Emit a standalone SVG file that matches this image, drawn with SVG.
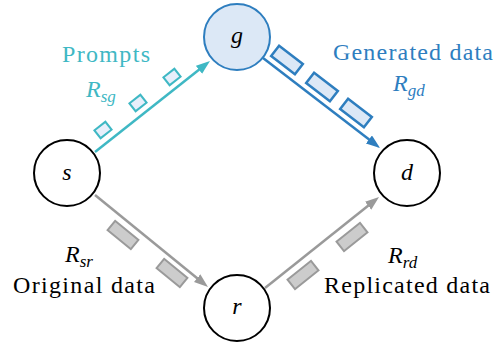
<svg xmlns="http://www.w3.org/2000/svg" width="504" height="344" viewBox="0 0 504 344">
<defs>
<marker id="aT" markerUnits="userSpaceOnUse" markerWidth="16" markerHeight="12" refX="6" refY="5" orient="auto"><path d="M0,0 L14,5 L0,10 z" fill="#3fb8c4"/></marker>
<marker id="aB" markerUnits="userSpaceOnUse" markerWidth="16" markerHeight="12" refX="6" refY="5" orient="auto"><path d="M0,0 L14,5 L0,10 z" fill="#2e7ebf"/></marker>
<marker id="aG" markerUnits="userSpaceOnUse" markerWidth="16" markerHeight="12" refX="6" refY="5" orient="auto"><path d="M0,0 L14,5 L0,10 z" fill="#9a9a9a"/></marker>
<rect id="sq" x="-7" y="-5" width="14" height="10" fill="#e8effb" stroke="#3fb8c4" stroke-width="2"/>
<rect id="br" x="-15" y="-6.5" width="30" height="13" fill="#dce8f6" stroke="#2e7ebf" stroke-width="2.5"/>
<rect id="gr" x="-15" y="-6" width="30" height="12" fill="#cccccc" stroke="#9a9a9a" stroke-width="2"/>
</defs>
<g id="connectors">
<line x1="95" y1="152" x2="203.7" y2="66" stroke="#3fb8c4" stroke-width="2.5" marker-end="url(#aT)"/>
<line x1="263" y1="58" x2="373.7" y2="143.1" stroke="#2e7ebf" stroke-width="2.5" marker-end="url(#aB)"/>
<line x1="95" y1="195" x2="201.8" y2="282" stroke="#9a9a9a" stroke-width="2.5" marker-end="url(#aG)"/>
<line x1="265" y1="288" x2="372.8" y2="202" stroke="#9a9a9a" stroke-width="2.5" marker-end="url(#aG)"/>
<use href="#sq" transform="translate(103,130) rotate(-38.4)"/>
<use href="#sq" transform="translate(138,103) rotate(-38.4)"/>
<use href="#sq" transform="translate(172,77) rotate(-38.4)"/>
<use href="#br" transform="translate(287,60) rotate(37.6)"/>
<use href="#br" transform="translate(322,87) rotate(37.6)"/>
<use href="#br" transform="translate(356,113) rotate(37.6)"/>
<use href="#gr" transform="translate(123,235) rotate(39.2)"/>
<use href="#gr" transform="translate(172,273) rotate(39.2)"/>
<use href="#gr" transform="translate(352,237) rotate(-38.6)"/>
<use href="#gr" transform="translate(303,275) rotate(-38.6)"/>
</g>
<g id="g"><circle cx="237" cy="37" r="33" fill="#dce8f6" stroke="#2e7ebf" stroke-width="2"/><text style="font-family:'Liberation Serif',serif;font-style:italic;font-size:24px" text-anchor="middle" x="237" y="43">g</text></g>
<g id="s"><circle cx="67" cy="173" r="33" fill="#fff" stroke="#000" stroke-width="2"/><text style="font-family:'Liberation Serif',serif;font-style:italic;font-size:24px" text-anchor="middle" x="67" y="180">s</text></g>
<g id="d"><circle cx="407" cy="173" r="33" fill="#fff" stroke="#000" stroke-width="2"/><text style="font-family:'Liberation Serif',serif;font-style:italic;font-size:24px" text-anchor="middle" x="407" y="180">d</text></g>
<g id="r"><circle cx="237" cy="308" r="33" fill="#fff" stroke="#000" stroke-width="2"/><text style="font-family:'Liberation Serif',serif;font-style:italic;font-size:24px" text-anchor="middle" x="237" y="314">r</text></g>
<g id="labels">
<text style="font-family:'Liberation Serif',serif;font-size:24px" fill="#3fb8c4" x="62" y="62" textLength="88">Prompts</text>
<text style="font-family:'Liberation Serif',serif;font-style:italic;font-size:24px" fill="#3fb8c4" x="86" y="97">R<tspan font-size="17" dy="5">sg</tspan></text>
<text style="font-family:'Liberation Serif',serif;font-size:24px" fill="#2e7ebf" x="333" y="60" textLength="160">Generated data</text>
<text style="font-family:'Liberation Serif',serif;font-style:italic;font-size:24px" fill="#2e7ebf" x="393" y="91">R<tspan font-size="17" dy="5">gd</tspan></text>
<text style="font-family:'Liberation Serif',serif;font-style:italic;font-size:24px" x="65" y="262">R<tspan font-size="17" dy="5">sr</tspan></text>
<text style="font-family:'Liberation Serif',serif;font-size:24px" x="13" y="293" textLength="142">Original data</text>
<text style="font-family:'Liberation Serif',serif;font-style:italic;font-size:24px" x="388" y="263">R<tspan font-size="17" dy="5">rd</tspan></text>
<text style="font-family:'Liberation Serif',serif;font-size:24px" x="324" y="293" textLength="166">Replicated data</text>
</g>
</svg>
